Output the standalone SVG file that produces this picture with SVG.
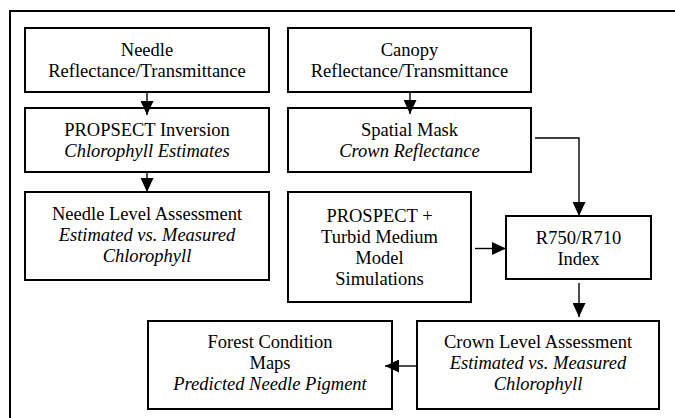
<svg xmlns="http://www.w3.org/2000/svg" width="675" height="418" viewBox="0 0 675 418">
<style>
.box{fill:#fff;stroke:#000;stroke-width:2}
text{font-family:'Liberation Serif','Times New Roman',Times,'DejaVu Serif',serif;font-size:18.5px;fill:#000;text-anchor:middle}
.i{font-style:italic}
.c{fill:none;stroke:#000;stroke-width:1.4}
</style>
<defs>
<marker id="ah" markerUnits="userSpaceOnUse" markerWidth="14" markerHeight="13" refX="14" refY="6.5" orient="auto">
<path d="M0,0 L14,6.5 L0,13 Z" fill="#000"/>
</marker>
</defs>
<rect width="675" height="418" fill="#fff"/>
<rect x="10" y="11" width="680" height="420" fill="none" stroke="#000" stroke-width="2"/>
<g font-family="Liberation Serif, Times New Roman, serif">
<g id="n1"><rect class="box" x="25" y="28" width="244" height="64"/>
<text x="147" y="56">Needle</text><text x="147" y="77">Reflectance/Transmittance</text></g>
<g id="n2"><rect class="box" x="25" y="108" width="244" height="64"/>
<text x="147" y="136">PROPSECT Inversion</text><text class="i" x="147" y="157">Chlorophyll Estimates</text></g>
<g id="n3"><rect class="box" x="25" y="192" width="244" height="88"/>
<text x="147" y="220">Needle Level Assessment</text><text class="i" x="147" y="241">Estimated vs. Measured</text><text class="i" x="147" y="262">Chlorophyll</text></g>
<g id="n4"><rect class="box" x="288" y="28" width="243" height="64"/>
<text x="409.5" y="56">Canopy</text><text x="409.5" y="77">Reflectance/Transmittance</text></g>
<g id="n5"><rect class="box" x="288" y="108" width="243" height="64"/>
<text x="409.5" y="136">Spatial Mask</text><text class="i" x="409.5" y="157">Crown Reflectance</text></g>
<g id="n6"><rect class="box" x="288" y="192" width="183" height="110"/>
<text x="379.5" y="221.5">PROSPECT +</text><text x="379.5" y="242.5">Turbid Medium</text><text x="379.5" y="263.5">Model</text><text x="379.5" y="284.5">Simulations</text></g>
<g id="n7"><rect class="box" x="506" y="216" width="145" height="63"/>
<text x="578.5" y="244">R750/R710</text><text x="578.5" y="265">Index</text></g>
<g id="n8"><rect class="box" x="417" y="321" width="242" height="88"/>
<text x="538" y="348">Crown Level Assessment</text><text class="i" x="538" y="369">Estimated vs. Measured</text><text class="i" x="538" y="390">Chlorophyll</text></g>
<g id="n9"><rect class="box" x="148" y="321" width="244" height="88"/>
<text x="270" y="348">Forest Condition</text><text x="270" y="369">Maps</text><text class="i" x="270" y="390">Predicted Needle Pigment</text></g>
</g>
<g id="connectors">
<path class="c" d="M147,92 L147,115" marker-end="url(#ah)"/>
<path class="c" d="M147,172 L147,192" marker-end="url(#ah)"/>
<path class="c" d="M410,92 L410,114" marker-end="url(#ah)"/>
<path class="c" d="M535,138 L579,138 L579,216" marker-end="url(#ah)"/>
<path class="c" d="M475,248.5 L506,248.5" marker-end="url(#ah)"/>
<path class="c" d="M579,283 L579,317" marker-end="url(#ah)"/>
<path class="c" d="M417,366 L385,366" marker-end="url(#ah)"/>
</g>
</svg>
